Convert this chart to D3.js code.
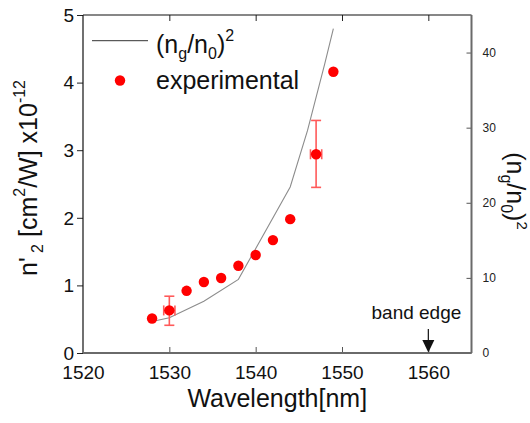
<!DOCTYPE html>
<html>
<head>
<meta charset="utf-8">
<script src="https://cdn.jsdelivr.net/npm/d3@7"></script>
<style>
  html, body { margin: 0; padding: 0; background: #fff; }
  svg { display: block; font-family: "Liberation Sans", Arial, sans-serif; }
</style>
</head>
<body>
<svg id="chart" width="530" height="423"></svg>
<script>
// Measured nonlinear index n'2 (x1e-12 cm^2/W) versus wavelength
const wavelength = [1528, 1530, 1532, 1534, 1536, 1538, 1540, 1542, 1544, 1547, 1549];
const n2 = [0.51, 0.63, 0.92, 1.05, 1.11, 1.29, 1.45, 1.67, 1.98, 2.94, 4.16];

// Error bars on selected measurements
const errWavelength = [1530, 1547];
const errLow = [0.41, 2.45];
const errHigh = [0.84, 3.44];
const errWidthNm = 0.65;

// Slow-light factor (n_g/n_0)^2 on the right axis
const ratioWavelength = [1528, 1530, 1534, 1538, 1544, 1546, 1548, 1549];
const ratioSq = [4.2, 4.7, 6.9, 9.8, 22.1, 29.6, 38.5, 43.2];

// Axis ticks
const xTicks = [1520, 1530, 1540, 1550, 1560];
const yLeftTicks = [0, 1, 2, 3, 4, 5];
const yRightTicks = [0, 10, 20, 30, 40];
const bandEdge = 1560;

const svg = d3.select("#chart");
const L = 83, R = 471.5, T = 15, B = 353;

const x = d3.scaleLinear().domain([1520, 1565]).range([L, R]);
const yL = d3.scaleLinear().domain([0, 5]).range([B, T]);
const yR = d3.scaleLinear().domain([0, 45]).range([B, T]);

// ---- axes ----
const gx = svg.append("g").attr("transform", `translate(0,${B})`)
  .call(d3.axisBottom(x).tickValues(xTicks).tickSize(0).tickPadding(0).tickFormat(d3.format("d")));
gx.select(".domain").remove();
gx.selectAll("text").attr("font-size", 19).attr("fill", "#111")
  .attr("font-family", "Liberation Sans, Arial, sans-serif").attr("dy", null).attr("y", 25.5);

const gxTop = svg.append("g").attr("transform", `translate(0,${T})`)
  .call(d3.axisTop(x).tickValues(xTicks.slice(1)).tickSize(-6).tickFormat(""));
gxTop.select(".domain").remove();
gxTop.selectAll("line").attr("stroke", "#222");

const gxIn = svg.append("g").attr("transform", `translate(0,${B})`)
  .call(d3.axisBottom(x).tickValues(xTicks.slice(1)).tickSize(-6).tickFormat(""));
gxIn.select(".domain").remove();
gxIn.selectAll("line").attr("stroke", "#555");

const gyL = svg.append("g").attr("transform", `translate(${L},0)`)
  .call(d3.axisLeft(yL).tickValues(yLeftTicks).tickSize(6).tickPadding(3).tickFormat(d3.format("d")));
gyL.select(".domain").remove();
gyL.selectAll("line").attr("stroke", "#222");
gyL.selectAll("text").attr("font-size", 19).attr("fill", "#111")
  .attr("font-family", "Liberation Sans, Arial, sans-serif").attr("dy", "0.33em");

const gyR = svg.append("g").attr("transform", `translate(${R},0)`)
  .call(d3.axisRight(yR).tickValues(yRightTicks).tickSize(-5).tickPadding(11).tickFormat(d3.format("d")));
gyR.select(".domain").remove();
gyR.selectAll("line").attr("stroke", "#555");
gyR.selectAll("text").attr("font-size", 12).attr("fill", "#222")
  .attr("font-family", "Liberation Sans, Arial, sans-serif");

// frame
svg.append("line").attr("x1", L).attr("x2", R).attr("y1", T).attr("y2", T)
  .attr("stroke", "#111").attr("stroke-width", 1.2);
svg.append("line").attr("x1", L).attr("x2", L).attr("y1", T).attr("y2", B)
  .attr("stroke", "#111").attr("stroke-width", 1.2);
svg.append("line").attr("x1", L).attr("x2", R).attr("y1", B).attr("y2", B)
  .attr("stroke", "#6a6a6a").attr("stroke-width", 2);
svg.append("line").attr("x1", R).attr("x2", R).attr("y1", T).attr("y2", B)
  .attr("stroke", "#6a6a6a").attr("stroke-width", 2);

// ---- (n_g/n_0)^2 curve ----
const ratioPts = ratioWavelength.map((w, i) => [w, ratioSq[i]]);
svg.append("path")
  .attr("d", d3.line().x(d => x(d[0])).y(d => yR(d[1]))(ratioPts))
  .attr("fill", "none").attr("stroke", "#8c8c8c").attr("stroke-width", 1.1);

// ---- error bars ----
const errG = svg.append("g").attr("stroke", "#ff5a5a").attr("stroke-width", 1.6).attr("fill", "none");
errWavelength.forEach((w, i) => {
  const xi = x(w), yi = yL(n2[wavelength.indexOf(w)]);
  const y0 = yL(errLow[i]), y1 = yL(errHigh[i]);
  errG.append("line").attr("x1", xi).attr("x2", xi).attr("y1", y0).attr("y2", y1);
  errG.append("line").attr("x1", xi - 5).attr("x2", xi + 5).attr("y1", y0).attr("y2", y0);
  errG.append("line").attr("x1", xi - 5).attr("x2", xi + 5).attr("y1", y1).attr("y2", y1);
  const xa = x(w - errWidthNm), xb = x(w + errWidthNm);
  errG.append("line").attr("x1", xa).attr("x2", xb).attr("y1", yi).attr("y2", yi);
  errG.append("line").attr("x1", xa).attr("x2", xa).attr("y1", yi - 5).attr("y2", yi + 5);
  errG.append("line").attr("x1", xb).attr("x2", xb).attr("y1", yi - 5).attr("y2", yi + 5);
});

// ---- experimental points ----
svg.append("g").selectAll("circle")
  .data(wavelength.map((w, i) => [w, n2[i]]))
  .join("circle")
  .attr("cx", d => x(d[0])).attr("cy", d => yL(d[1]))
  .attr("r", 5.2).attr("fill", "#ff0000");

// ---- legend ----
svg.append("line").attr("x1", 92).attr("x2", 148).attr("y1", 40.7).attr("y2", 40.7)
  .attr("stroke", "#333").attr("stroke-width", 1);
const lt = svg.append("text").attr("x", 156).attr("y", 53).attr("font-size", 25).attr("fill", "#111");
lt.append("tspan").text("(n");
lt.append("tspan").attr("font-size", 16).attr("dy", 6).text("g");
lt.append("tspan").attr("dy", -6).text("/n");
lt.append("tspan").attr("font-size", 16).attr("dy", 6).text("0");
lt.append("tspan").attr("dy", -6).text(")");
lt.append("tspan").attr("font-size", 16).attr("dy", -12).text("2");

svg.append("circle").attr("cx", 120).attr("cy", 80.5).attr("r", 5.2).attr("fill", "#ff0000");
svg.append("text").attr("x", 156).attr("y", 88.5).attr("font-size", 25).attr("fill", "#111")
  .text("experimental");

// ---- axis titles ----
svg.append("text").attr("x", (L + R) / 2).attr("y", 407).attr("text-anchor", "middle")
  .attr("font-size", 25).attr("fill", "#111").text("Wavelength[nm]");

const yt = svg.append("text").attr("transform", "translate(37,178) rotate(-90)")
  .attr("text-anchor", "middle").attr("font-size", 25).attr("fill", "#111");
yt.append("tspan").text("n'");
yt.append("tspan").attr("font-size", 16).attr("dy", 6).text(" 2");
yt.append("tspan").attr("dy", -6).text(" [cm");
yt.append("tspan").attr("font-size", 16).attr("dy", -12).text("2");
yt.append("tspan").attr("dy", 12).text("/W] x10");
yt.append("tspan").attr("font-size", 16).attr("dy", -12).text("-12");

const rt = svg.append("text").attr("transform", "translate(507,191) rotate(90)")
  .attr("text-anchor", "middle").attr("font-size", 25).attr("fill", "#111");
rt.append("tspan").text("(n");
rt.append("tspan").attr("font-size", 16).attr("dy", 6).text("g");
rt.append("tspan").attr("dy", -6).text("/n");
rt.append("tspan").attr("font-size", 16).attr("dy", 6).text("0");
rt.append("tspan").attr("dy", -6).text(")");
rt.append("tspan").attr("font-size", 15).attr("dy", -10).text("2");

// ---- band edge marker ----
const bx = x(bandEdge);
svg.append("text").attr("x", bx + 33).attr("y", 318.5).attr("text-anchor", "end")
  .attr("font-size", 19).attr("fill", "#111").text("band edge");
svg.append("line").attr("x1", bx).attr("x2", bx).attr("y1", 329).attr("y2", 341)
  .attr("stroke", "#111").attr("stroke-width", 1.2);
svg.append("path")
  .attr("d", `M${bx - 6},340 L${bx + 6},340 L${bx},352.5 Z`)
  .attr("fill", "#111");
</script>
</body>
</html>
